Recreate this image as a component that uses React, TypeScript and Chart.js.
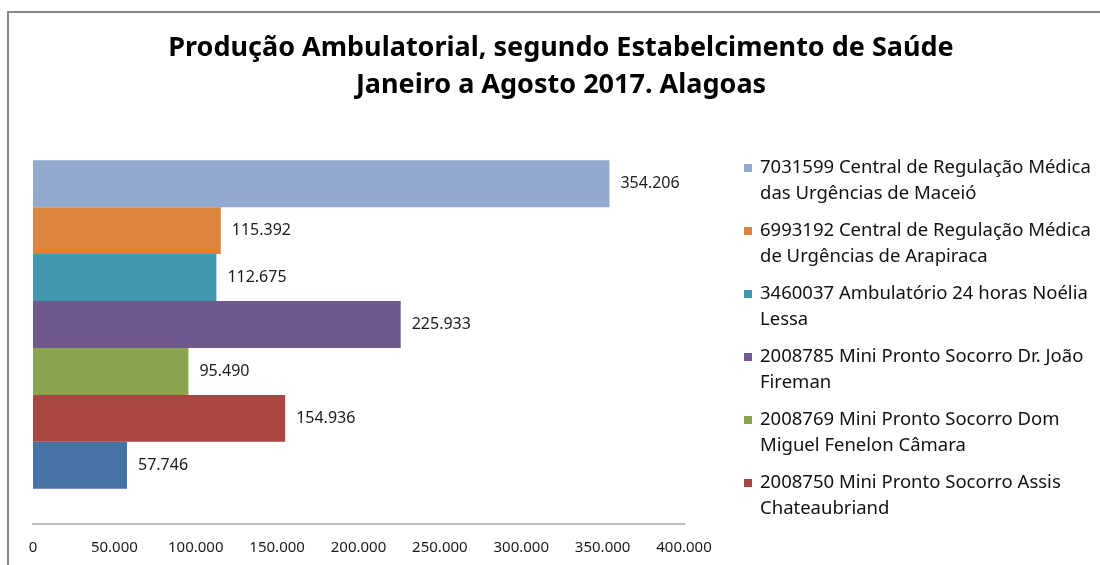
import React, { useEffect, useRef } from "react";
import { Chart, registerables } from "chart.js";

Chart.register(...registerables);

const titleLines = [
  "Produção Ambulatorial, segundo Estabelcimento de Saúde",
  "Janeiro a Agosto 2017. Alagoas",
];

const categories = [""];

// Top-to-bottom order as drawn
const seriesValues = [354206, 115392, 112675, 225933, 95490, 154936, 57746];
const seriesNames = [
  "7031599 Central de Regulação Médica das Urgências de Maceió",
  "6993192 Central de Regulação Médica de Urgências de Arapiraca",
  "3460037 Ambulatório 24 horas Noélia Lessa",
  "2008785 Mini Pronto Socorro Dr. João Fireman",
  "2008769 Mini Pronto Socorro Dom Miguel Fenelon Câmara",
  "2008750 Mini Pronto Socorro Assis Chateaubriand",
  "",
];
const legendLines = [
  ["7031599 Central de Regulação Médica", "das Urgências de Maceió"],
  ["6993192 Central de Regulação Médica", "de Urgências de Arapiraca"],
  ["3460037 Ambulatório 24 horas Noélia", "Lessa"],
  ["2008785 Mini Pronto Socorro Dr. João", "Fireman"],
  ["2008769 Mini Pronto Socorro Dom", "Miguel Fenelon Câmara"],
  ["2008750 Mini Pronto Socorro Assis", "Chateaubriand"],
];
const seriesColors = [
  "#93A9CF",
  "#DB843D",
  "#4198AF",
  "#71588F",
  "#89A54E",
  "#AA4643",
  "#4572A7",
];
const xTicks = [0, 50000, 100000, 150000, 200000, 250000, 300000, 350000, 400000];

const fmt = (v: number) =>
  String(Math.round(v)).replace(/\B(?=(\d{3})+(?!\d))/g, ".");

const FONT = "'Noto Sans', 'Open Sans', sans-serif";

const decorPlugin = {
  id: "decor",
  beforeDraw(chart: any) {
    const ctx = chart.ctx;
    ctx.save();
    ctx.fillStyle = "#ffffff";
    ctx.fillRect(0, 0, chart.width, chart.height);
    ctx.strokeStyle = "#878787";
    ctx.lineWidth = 2;
    ctx.strokeRect(8, 12, 1200, 700);
    ctx.restore();
  },
  afterDraw(chart: any) {
    const ctx = chart.ctx;
    ctx.save();
    // title
    ctx.fillStyle = "#000000";
    ctx.font = `bold 27px ${FONT}`;
    ctx.textAlign = "center";
    ctx.textBaseline = "middle";
    ctx.fillText(titleLines[0], 561, 48);
    ctx.fillText(titleLines[1], 561, 85);

    // data labels
    ctx.font = `16px ${FONT}`;
    ctx.textAlign = "left";
    ctx.fillStyle = "#1a1a1a";
    chart.data.datasets.forEach((ds: any, i: number) => {
      const meta = chart.getDatasetMeta(i);
      const el = meta.data[0];
      if (!el) return;
      ctx.fillText(fmt(ds.data[0]), el.x + 11, el.y);
    });

    // legend
    ctx.font = `18.5px ${FONT}`;
    ctx.textBaseline = "middle";
    legendLines.forEach((lines, i) => {
      const y0 = 168 + i * 63;
      ctx.fillStyle = seriesColors[i];
      ctx.fillRect(744, y0 - 4, 8, 8);
      ctx.fillStyle = "#111111";
      lines.forEach((t, j) => {
        ctx.fillText(t, 760, y0 + j * 26);
      });
    });
    ctx.restore();
  },
};

export default function App() {
  const ref = useRef<HTMLCanvasElement | null>(null);
  useEffect(() => {
    if (!ref.current) return;
    const chart = new Chart(ref.current, {
      type: "bar",
      data: {
        labels: categories,
        datasets: seriesValues.map((v, i) => ({
          label: seriesNames[i],
          data: [v],
          backgroundColor: seriesColors[i],
          borderWidth: 0,
          categoryPercentage: 7 / 8.5,
          barPercentage: 1,
        })),
      },
      options: {
        indexAxis: "y",
        animation: false,
        responsive: false,
        maintainAspectRatio: false,
        layout: { padding: { left: 33, right: 416, top: 125, bottom: 0 } },
        plugins: {
          legend: { display: false },
          title: { display: false },
          tooltip: { enabled: false },
        },
        scales: {
          y: { display: false },
          x: {
            min: 0,
            max: 400000,
            afterBuildTicks: (axis: any) => {
              axis.ticks = xTicks.map((v) => ({ value: v }));
            },
            afterFit: (axis: any) => {
              axis.height = 41;
            },
            grid: { display: false, drawTicks: false },
            border: { display: true, color: "#BFBFBF", width: 2 },
            ticks: {
              autoSkip: false,
              maxRotation: 0,
              padding: 15,
              color: "#1a1a1a",
              font: { family: FONT, size: 15 },
              callback: (v: any) => fmt(Number(v)),
            },
          },
        },
      },
      plugins: [decorPlugin],
    } as any);
    return () => chart.destroy();
  }, []);
  return (
    <div style={{ position: "fixed", left: 0, top: 0, width: 1100, height: 565, background: "#fff" }}>
      <canvas ref={ref} width={1100} height={565} style={{ display: "block" }} />
    </div>
  );
}
